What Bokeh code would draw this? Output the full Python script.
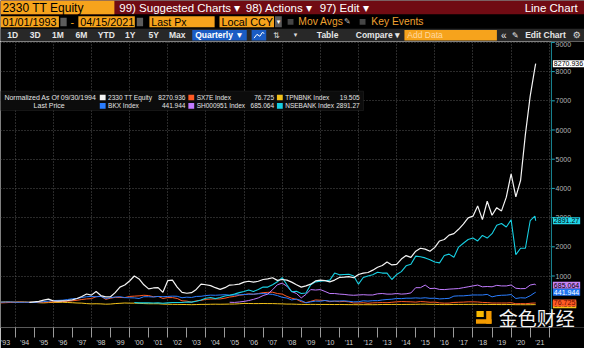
from datetime import date
from bokeh.plotting import figure
from bokeh.models import ColumnDataSource, Range1d, FixedTicker, Label, BoxAnnotation, Span
from bokeh.layouts import column
from bokeh.embed import file_html
from bokeh.resources import INLINE
from bokeh.core.properties import value

# ---------------- data (quarter ends, normalized to 100 at 09/30/1994) ----------------
END_DATE = date(2021, 4, 15)

tsmc_start = date(1994, 9, 30)
tsmc_vals = [
    100, 115,                 # 1994 Q3-Q4
    130, 175, 210, 150,       # 1995
    140, 150, 160, 185,       # 1996
    230, 300, 385, 345,       # 1997
    470, 330, 285, 290,       # 1998
    430, 620, 690, 830,       # 1999
    1000, 900, 700, 560,      # 2000
    590, 600, 440, 840,       # 2001
    860, 620, 440, 410,       # 2002
    430, 540, 720, 700,       # 2003
    670, 600, 540, 600,       # 2004
    690, 700, 720, 790,       # 2005
    820, 790, 820, 880,       # 2006
    900, 940, 850, 880,       # 2007
    860, 790, 700, 620,       # 2008
    660, 720, 830, 860,       # 2009
    840, 800, 860, 950,       # 2010
    960, 980, 940, 1050,      # 2011
    1100, 1120, 1200, 1300,   # 2012
    1360, 1480, 1380, 1400,   # 2013
    1580, 1700, 1640, 1850,   # 2014
    1950, 1920, 1850, 1980,   # 2015
    2200, 2250, 2400, 2450,   # 2016
    2600, 2780, 2990, 3050,   # 2017
    3400, 2930, 3560, 3080,   # 2018
    3340, 3230, 3700, 4497,   # 2019
    3711, 4280, 5850, 7160,   # 2020
    8130, 8270.936,           # 2021 Q1, 04/15
]

bkx_start = date(1993, 3, 31)
bkx_vals = [
    105, 108, 112, 102,  # 1993
    100, 102, 100, 92,   # 1994
    108, 122, 140, 160,  # 1995
    165, 172, 195, 220,  # 1996
    230, 265, 290, 300,  # 1997
    290, 300, 230, 260,  # 1998
    280, 290, 260, 255,  # 1999
    250, 230, 290, 290,  # 2000
    280, 300, 290, 300,  # 2001
    310, 305, 255, 275,  # 2002
    265, 300, 305, 330,  # 2003
    345, 340, 350, 360,  # 2004
    345, 350, 355, 365,  # 2005
    375, 380, 390, 400,  # 2006
    385, 370, 330, 270,  # 2007
    245, 180, 210, 160,  # 2008
    80, 115, 140, 135,   # 2009
    160, 140, 140, 145,  # 2010
    150, 135, 115, 120,  # 2011
    150, 140, 155, 155,  # 2012
    180, 195, 205, 230,  # 2013
    225, 240, 240, 250,  # 2014
    240, 255, 235, 240,  # 2015
    215, 225, 235, 310,  # 2016
    320, 320, 335, 350,  # 2017
    350, 350, 370, 285,  # 2018
    325, 340, 345, 365,  # 2019
    230, 255, 245, 325,  # 2020
    430, 441.944,
]

sx7e_start = date(1993, 3, 31)
sx7e_vals = [
    80, 85, 95, 100,     # 1993
    110, 98, 100, 95,    # 1994
    98, 105, 110, 115,   # 1995
    120, 125, 135, 150,  # 1996
    170, 195, 215, 225,  # 1997
    290, 310, 200, 240,  # 1998
    270, 265, 260, 300,  # 1999
    310, 320, 340, 330,  # 2000
    290, 300, 230, 260,  # 2001
    260, 230, 150, 140,  # 2002
    105, 150, 165, 200,  # 2003
    210, 215, 215, 240,  # 2004
    280, 300, 340, 360,  # 2005
    390, 370, 400, 430,  # 2006
    440, 445, 400, 380,  # 2007
    300, 240, 200, 120,  # 2008
    90, 130, 180, 170,   # 2009
    160, 120, 140, 120,  # 2010
    130, 115, 75, 75,    # 2011
    85, 65, 80, 85,      # 2012
    90, 85, 100, 115,    # 2013
    125, 120, 115, 105,  # 2014
    125, 115, 100, 105,  # 2015
    80, 70, 72, 95,      # 2016
    100, 105, 115, 115,  # 2017
    110, 95, 90, 75,     # 2018
    75, 75, 75, 85,      # 2019
    50, 55, 50, 65,      # 2020
    75, 76.725,
]

sh_start = date(2005, 3, 31)
sh_vals = [
    100, 95, 110, 130,   # 2005
    160, 200, 250, 330,  # 2006
    380, 530, 700, 755,  # 2007
    650, 470, 400, 250,  # 2008
    370, 535, 520, 535,  # 2009
    470, 400, 400, 380,  # 2010
    370, 350, 340, 350,  # 2011
    360, 350, 350, 390,  # 2012
    400, 380, 380, 400,  # 2013
    380, 390, 420, 600,  # 2014
    600, 690, 570, 580,  # 2015
    540, 535, 550, 560,  # 2016
    570, 600, 630, 660,  # 2017
    690, 630, 640, 630,  # 2018
    680, 660, 660, 692,  # 2019
    580, 566, 570, 690,  # 2020
    723, 685.064,
]

tpn_start = date(1993, 3, 31)
tpn_vals = [
    105, 115, 110, 105,  # 1993
    110, 112, 100, 98,   # 1994
    85, 80, 90, 95,      # 1995
    95, 100, 92, 85,     # 1996
    75, 70, 55, 45,      # 1997
    50, 45, 35, 40,      # 1998
    55, 65, 75, 70,      # 1999
    70, 65, 55, 50,      # 2000
    50, 50, 38, 32,      # 2001
    30, 28, 25, 22,      # 2002
    18, 22, 28, 28,      # 2003
    32, 35, 32, 35,      # 2004
    38, 40, 50, 60,      # 2005
    58, 55, 55, 58,      # 2006
    55, 55, 50, 45,      # 2007
    38, 38, 32, 28,      # 2008
    25, 28, 27, 24,      # 2009
    26, 24, 22, 24,      # 2010
    22, 20, 19, 17,      # 2011
    19, 18, 17, 20,      # 2012
    25, 24, 26, 27,      # 2013
    25, 27, 28, 30,      # 2014
    34, 36, 30, 30,      # 2015
    22, 20, 21, 27,      # 2016
    27, 27, 28, 30,      # 2017
    30, 27, 28, 23,      # 2018
    23, 21, 22, 23,      # 2019
    17, 17, 16, 17,      # 2020
    20, 19.505,
]

nse_start = date(2000, 3, 31)
nse_vals = [
    95, 81, 81, 86,          # 2000
    77, 81, 68, 81,          # 2001
    90, 95, 90, 108,         # 2002
    104, 135, 180, 240,      # 2003
    261, 225, 261, 315,      # 2004
    340, 380, 430, 470,      # 2005
    520, 470, 540, 620,      # 2006
    620, 700, 800, 945,      # 2007
    700, 460, 480, 400,      # 2008
    420, 700, 800, 820,      # 2009
    840, 860, 1100, 1040,    # 2010
    1050, 1060, 1000, 720,   # 2011
    950, 1000, 1040, 1130,   # 2012
    1100, 1100, 880, 1050,   # 2013
    1150, 1350, 1400, 1680,  # 2014
    1660, 1620, 1560, 1480,  # 2015
    1450, 1700, 1750, 1640,  # 2016
    1990, 2120, 2250, 2300,  # 2017
    2200, 2390, 2300, 2450,  # 2018
    2740, 2800, 2680, 2925,  # 2019
    1730, 1950, 1950, 2893,  # 2020
    3050, 2891.27,
]

legend_names = ["2330 TT Equity", "BKX Index", "SX7E Index", "SH000951 Index", "TPNBNK Index", "NSEBANK Index"]
legend_last = ["8270.936", "441.944", "76.725", "685.064", "19.505", "2891.27"]
year_labels = ["'" + str(y)[2:] for y in range(1993, 2022)]
y_ticks = [1000, 2000, 3000, 4000, 5000, 6000, 7000, 8000, 9000]

# ---------------- helpers ----------------
quarter_dates = [date(y, m, d) for y in range(1993, 2022)
                 for (m, d) in ((3, 31), (6, 30), (9, 30), (12, 31))
                 if date(y, m, d) <= date(2021, 3, 31)] + [END_DATE]


def frac_year(d):
    start = date(d.year, 1, 1)
    n = (date(d.year + 1, 1, 1) - start).days
    return d.year + ((d - start).days + 1) / n


def dates_from(start, n):
    i = quarter_dates.index(start)
    return [frac_year(d) for d in quarter_dates[i:i + n]]


# reference-pixel -> data helpers (placement of decorations only)
def rx(X):
    return 1994 + (X - 15) / 19.6


def ry(Y):
    return (329.75 - Y) / 0.03175


FONT = "Liberation Sans"
ORANGE = "#f6a31c"

# ---------------- header (Bloomberg toolbar) ----------------
hdr = figure(width=584, height=41, x_range=Range1d(0, 600), y_range=Range1d(43, 0),
             x_axis_type=None, y_axis_type=None, toolbar_location=None, tools="",
             output_backend="svg", min_border=0, outline_line_color=None,
             background_fill_color="#000000", border_fill_color="#000000")


def box(l, r, t, b, c):
    hdr.quad(left=[l], right=[r], top=[t], bottom=[b], fill_color=c, line_color=None)


def txt(x, y, s, size, color, align="left", bold=False, font=FONT):
    hdr.text(x=[x], y=[y], text=[s], text_font=value(font), text_font_size=value(size),
             text_color=color, text_align=align, text_baseline="middle",
             text_font_style="bold" if bold else "normal")


# row 1
box(0, 600, 0, 14.5, "#700b13")
box(0, 117, 0, 14.5, ORANGE)
txt(2, 7.5, "2330 TT Equity", "12px", "#000000")
txt(122, 7.5, "99) Suggested Charts \u25be", "11.5px", "#ffffff")
txt(252, 7.5, "98) Actions \u25be", "11.5px", "#ffffff")
txt(328, 7.5, "97) Edit \u25be", "11.5px", "#ffffff")
txt(593, 7.5, "Line Chart", "11.5px", "#ffffff", align="right")
# row 2
for l, r in ((0, 60), (80, 138), (153, 220), (225, 281)):
    box(l, r, 16.5, 28, ORANGE)
for l, r in ((61.5, 68), (140, 146.5)):
    box(l, r, 18, 27, "#5c5c5c")
box(282, 289, 16.5, 28, "#5c5c5c")
txt(2, 22.5, "01/01/1993", "10.8px", "#000000")
txt(72, 22.5, "-", "10.8px", ORANGE)
txt(82, 22.5, "04/15/2021", "10.8px", "#000000")
txt(155, 22.5, "Last Px", "10.5px", "#000000")
txt(227, 22.5, "Local CCY", "10.8px", "#000000")
txt(285.5, 22.5, "\u25be", "7px", "#ffffff", align="center", font="DejaVu Sans")
box(295, 301, 19.5, 25.5, "#454545")
txt(306, 22.5, "Mov Avgs", "10.3px", "#f0a030")
txt(353, 22.5, "\u270e", "8px", "#bbbbbb", font="DejaVu Sans")
box(369, 375, 19.5, 25.5, "#454545")
txt(381, 22.5, "Key Events", "10.3px", "#f0a030")
# row 3
box(0, 600, 29.5, 43, "#282828")
for x, s in ((7, "1D"), (30, "3D"), (53, "1M"), (77, "6M"), (100, "YTD"),
             (128, "1Y"), (152, "5Y"), (173, "Max")):
    txt(x, 36.5, s, "8.5px", "#e6e6e6", bold=True)
box(197, 253, 31, 42, "#1a5cc4")
txt(200, 36.5, "Quarterly \u25bc", "8.5px", "#ffffff", bold=True)
box(258, 273, 31, 42, "#1a5cc4")
hdr.line(x=[260.5, 263.5, 266.5, 269, 271], y=[39.5, 35.5, 37.5, 33.5, 34.5], line_color="#ffffff", line_width=1)
txt(283.5, 36.5, "\u21c5", "8px", "#dddddd", align="center", font="DejaVu Sans")
txt(303, 36.5, "\u25be", "7px", "#dddddd", align="center", font="DejaVu Sans")
txt(325, 36.5, "Table", "8.5px", "#e6e6e6", bold=True)
txt(365, 36.5, "Compare \u25be", "8.5px", "#e6e6e6", bold=True)
box(415, 510, 31, 42, ORANGE)
txt(418, 36.5, "Add Data", "8.5px", "#ffd9a0")
txt(517, 36.5, "\u00ab", "10px", "#e6e6e6", align="center")
txt(529, 36.5, "\u270e", "8px", "#e6e6e6", align="center", font="DejaVu Sans")
txt(539, 36.5, "Edit Chart", "8.5px", "#e6e6e6", bold=True)
txt(592, 36.5, "\u2699", "9px", "#dddddd", align="center", font="DejaVu Sans")

# ---------------- chart ----------------
p = figure(width=584, height=307, x_range=Range1d(rx(0), rx(600)), y_range=Range1d(ry(354), ry(43)),
           y_axis_location="right", toolbar_location=None, tools="", output_backend="svg",
           min_border_left=0, min_border_top=0, min_border_right=0, min_border_bottom=10,
           background_fill_color="#000000", border_fill_color="#000000", outline_line_color=None)

# grid
p.xgrid.ticker = FixedTicker(ticks=list(range(1994, 2023, 2)))
p.ygrid.ticker = FixedTicker(ticks=y_ticks)
p.grid.grid_line_color = "#555555"
p.grid.grid_line_dash = "1 2"
p.grid.grid_line_width = 1
# keep the strip right of the value axis clear of grid lines
p.add_layout(BoxAnnotation(left=rx(566), fill_color="#000000", fill_alpha=1, line_color=None, level="underlay"))

# x axis: labels centred in each year, separators at year boundaries
xa = p.xaxis[0]
mids = [y + 0.5 for y in range(1993, 2022)]
xa.ticker = FixedTicker(ticks=mids, minor_ticks=list(range(1994, 2023)))
xa.bounds = (rx(0), rx(566))
xa.major_label_overrides = {m: lab for m, lab in zip(mids, year_labels)}
xa.major_tick_line_color = None
xa.major_tick_out = 0
xa.major_tick_in = 0
xa.minor_tick_out = 10
xa.minor_tick_in = 0
xa.minor_tick_line_color = "#9a9a9a"
xa.axis_line_color = "#5a5a5a"
xa.major_label_text_font = FONT
xa.major_label_text_font_size = "7px"
xa.major_label_text_color = "#d0d0d0"
xa.major_label_standoff = 1

# value axis: labels drawn just right of the teal axis line
ya = p.yaxis[0]
ya.ticker = FixedTicker(ticks=y_ticks)
ya.axis_line_color = None
ya.major_tick_line_color = None
ya.minor_tick_line_color = None
ya.major_tick_out = 0
ya.major_tick_in = 0
ya.major_label_standoff = -29
ya.major_label_text_font = FONT
ya.major_label_text_font_size = "7px"
ya.major_label_text_color = "#b5b5b5"

TEAL = "#1b8c9c"
p.add_layout(Span(location=rx(566), dimension="height", line_color=TEAL, line_width=1))
p.segment(x0=rx(566), x1=rx(569.5), y0=y_ticks, y1=y_ticks, line_color="#22a8b8", line_width=1)

series = [
    ("TPNBNK Index", tpn_start, tpn_vals, "#f3c21a", 1.0),
    ("SX7E Index", sx7e_start, sx7e_vals, "#ff5a24", 1.0),
    ("BKX Index", bkx_start, bkx_vals, "#2a7dff", 1.0),
    ("SH000951 Index", sh_start, sh_vals, "#c27cff", 1.0),
    ("NSEBANK Index", nse_start, nse_vals, "#17cfe2", 1.1),
    ("2330 TT Equity", tsmc_start, tsmc_vals, "#f4f4f4", 1.2),
]
colors = {}
for name, start, vals, col, lw in series:
    src = ColumnDataSource(dict(t=dates_from(start, len(vals)), v=vals))
    p.line(x="t", y="v", source=src, line_color=col, line_width=lw)
    colors[name] = col

# legend box
p.add_layout(BoxAnnotation(left=rx(0), right=rx(373), top=ry(97), bottom=ry(118),
                           fill_color="#0c0c0c", fill_alpha=1, line_color="#3a3a3a", line_width=1))


def lab(X, Y, s, size="6.5px", color="#e4e4e4", align="left", font=FONT, **kw):
    p.add_layout(Label(x=rx(X), y=ry(Y), text=s, text_font=font, text_font_size=size,
                       text_color=color, text_align=align, text_baseline="middle", **kw))


lab(4, 104, "Normalized As Of 09/30/1994", size="7px")
lab(50, 113, "Last Price", size="7px", align="center")
legend_cells = [(102, 104, 190), (102, 113, 190), (193, 104, 281), (193, 113, 281),
                (284, 104, 369), (284, 113, 369)]
for (sx, yy, vx), name, last in zip(legend_cells, legend_names, legend_last):
    p.add_layout(BoxAnnotation(left=rx(sx), right=rx(sx + 6), top=ry(yy - 3), bottom=ry(yy + 3),
                               fill_color=colors[name], fill_alpha=1, line_color=None))
    lab(sx + 8.5, yy, name)
    lab(vx, yy, last, align="right")

# last-value tags on the value axis
tag_style = {
    "2330 TT Equity": ("#ffffff", "#000000"),
    "NSEBANK Index": ("#22d6ea", "#000000"),
    "SH000951 Index": ("#c985f5", "#000000"),
    "BKX Index": ("#1f74f0", "#ffffff"),
    "TPNBNK Index": ("#f3c21a", "#000000"),
    "SX7E Index": ("#ff5a24", "#6a0f00"),
}
for name in ["2330 TT Equity", "NSEBANK Index", "SH000951 Index", "BKX Index", "TPNBNK Index", "SX7E Index"]:
    i = legend_names.index(name)
    bg, fg = tag_style[name]
    p.add_layout(Label(x=rx(567.5), y=float(legend_last[i]), text=legend_last[i], text_font=FONT,
                       text_font_size="7px", text_color=fg, text_align="left", text_baseline="middle",
                       background_fill_color=bg, background_fill_alpha=1, padding=1))

# watermark
for l, r, t, b, c in ((489, 496.5, 336, 342.5, "#f7b800"), (499, 504.5, 336, 350, "#f39a00"),
                      (488.5, 504.5, 345, 350, "#f39a00")):
    p.add_layout(BoxAnnotation(left=rx(l), right=rx(r), top=ry(t), bottom=ry(b),
                               fill_color=c, fill_alpha=1, line_color=None))
lab(512, 343, "金色财经", size="19px", color="#f4f4f4", font="Noto Sans CJK SC")

layout = column(hdr, p)
open("out.html", "w").write(file_html(layout, INLINE))
